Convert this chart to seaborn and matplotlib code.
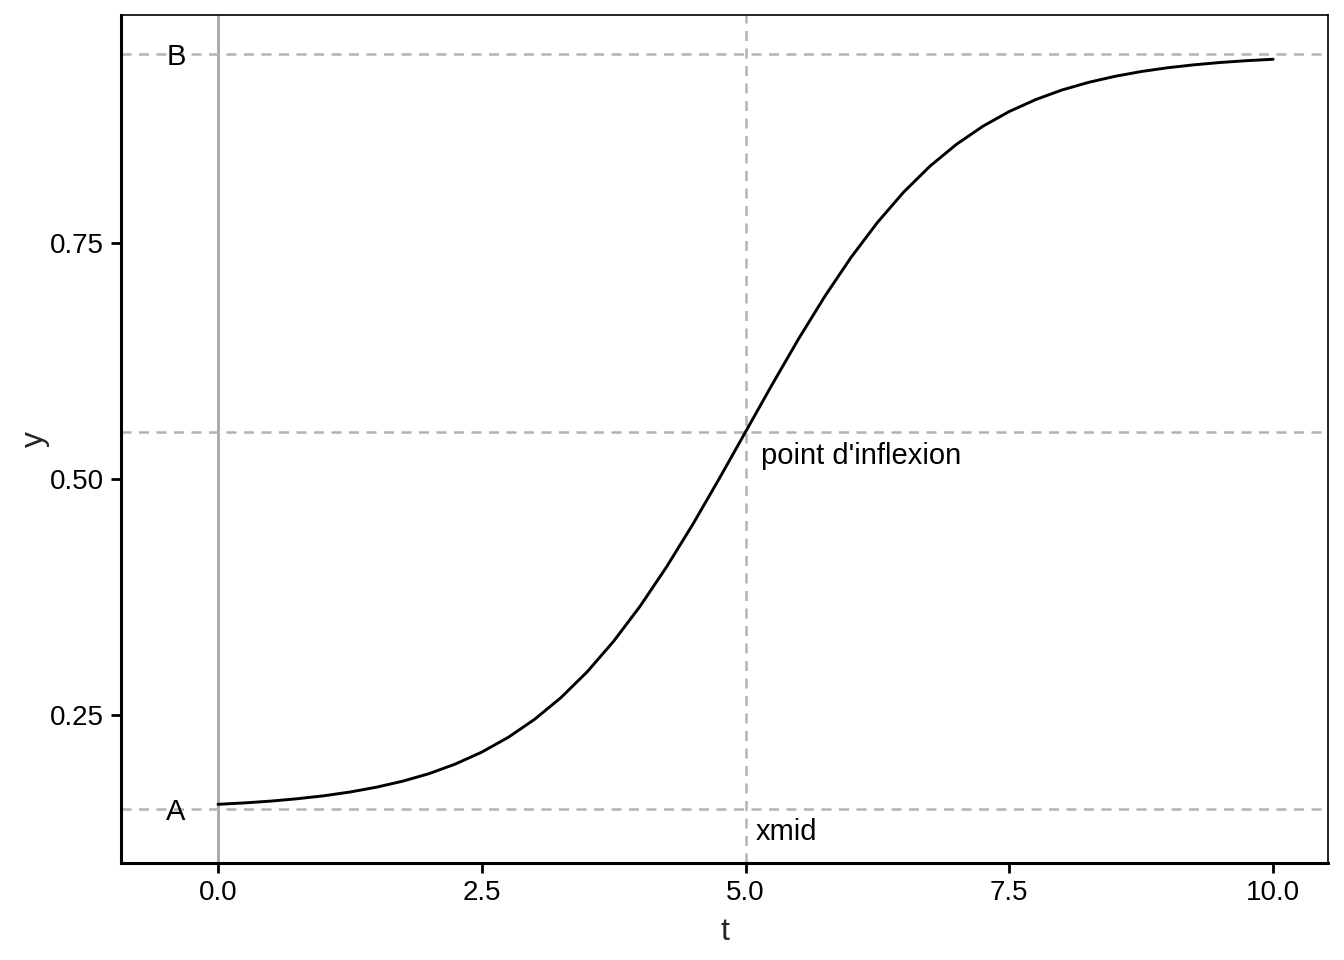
import matplotlib
matplotlib.use("Agg")
import matplotlib.pyplot as plt
import seaborn as sns
import pandas as pd

# Curve values
t_vals = [0.0, 0.25, 0.5, 0.75, 1.0, 1.25, 1.5, 1.75, 2.0, 2.25, 2.5, 2.75,
          3.0, 3.25, 3.5, 3.75, 4.0, 4.25, 4.5, 4.75, 5.0, 5.25, 5.5, 5.75,
          6.0, 6.25, 6.5, 6.75, 7.0, 7.25, 7.5, 7.75, 8.0, 8.25, 8.5, 8.75,
          9.0, 9.25, 9.5, 9.75, 10.0]
y_vals = [0.1554, 0.1569, 0.1588, 0.1613, 0.1644, 0.1684, 0.1735, 0.1799,
          0.1879, 0.1981, 0.2107, 0.2263, 0.2454, 0.2684, 0.2959, 0.3282,
          0.3652, 0.4067, 0.4520, 0.5003, 0.5500, 0.5997, 0.6480, 0.6933,
          0.7348, 0.7718, 0.8041, 0.8316, 0.8546, 0.8737, 0.8893, 0.9019,
          0.9121, 0.9201, 0.9265, 0.9316, 0.9356, 0.9387, 0.9412, 0.9431,
          0.9446]

A_level = 0.15
B_level = 0.95
xmid = 5.0
inflexion_y = 0.55

x_ticks = [0.0, 2.5, 5.0, 7.5, 10.0]
x_tick_labels = ["0.0", "2.5", "5.0", "7.5", "10.0"]
y_ticks = [0.25, 0.50, 0.75]
y_tick_labels = ["0.25", "0.50", "0.75"]

df = pd.DataFrame({"t": t_vals, "y": y_vals})

sns.set_theme(style="ticks")
plt.rcParams["font.family"] = ["Liberation Sans", "DejaVu Sans"]

fig = plt.figure(figsize=(6.72, 4.8), dpi=200)
ax = fig.add_axes([0.0900, 0.1010, 0.8981, 0.8834])

grey_dash = "#b3b3b3"
ax.axvline(0, color="#a6a6a6", lw=1.0, zorder=1)
for lvl in (A_level, inflexion_y, B_level):
    ax.axhline(lvl, color=grey_dash, lw=0.9, ls=(0, (4, 3)), zorder=1)
ax.axvline(xmid, color=grey_dash, lw=0.9, ls=(0, (4, 3)), zorder=1)

sns.lineplot(data=df, x="t", y="y", ax=ax, color="black", lw=1.05, zorder=3)

ax.text(-0.4, B_level, "B", ha="center", va="center_baseline", fontsize=10.5, color="black")
ax.text(-0.4, A_level, "A", ha="center", va="center_baseline", fontsize=10.5, color="black")
ax.text(5.15, 0.5275, "point d'inflexion", ha="left", va="center_baseline", fontsize=10.5, color="black")
ax.text(5.1, 0.129, "xmid", ha="left", va="center_baseline", fontsize=10.5, color="black")

ax.set_xlim(-0.92, 10.52)
ax.set_ylim(0.0932, 0.9915)
ax.set_xticks(x_ticks)
ax.set_xticklabels(x_tick_labels)
ax.set_yticks(y_ticks)
ax.set_yticklabels(y_tick_labels)
ax.tick_params(axis="both", labelsize=10, length=3.5, width=1.0, color="black",
               labelcolor="black", pad=2.5)
ax.set_xlabel("t", fontsize=11.5, labelpad=4)
ax.set_ylabel("y", fontsize=11.5, labelpad=0)
for side in ("top", "right"):
    ax.spines[side].set_linewidth(0.6)
    ax.spines[side].set_color("black")
for side in ("left", "bottom"):
    ax.spines[side].set_linewidth(1.1)
    ax.spines[side].set_color("black")

fig.savefig("out.png", dpi=200)
